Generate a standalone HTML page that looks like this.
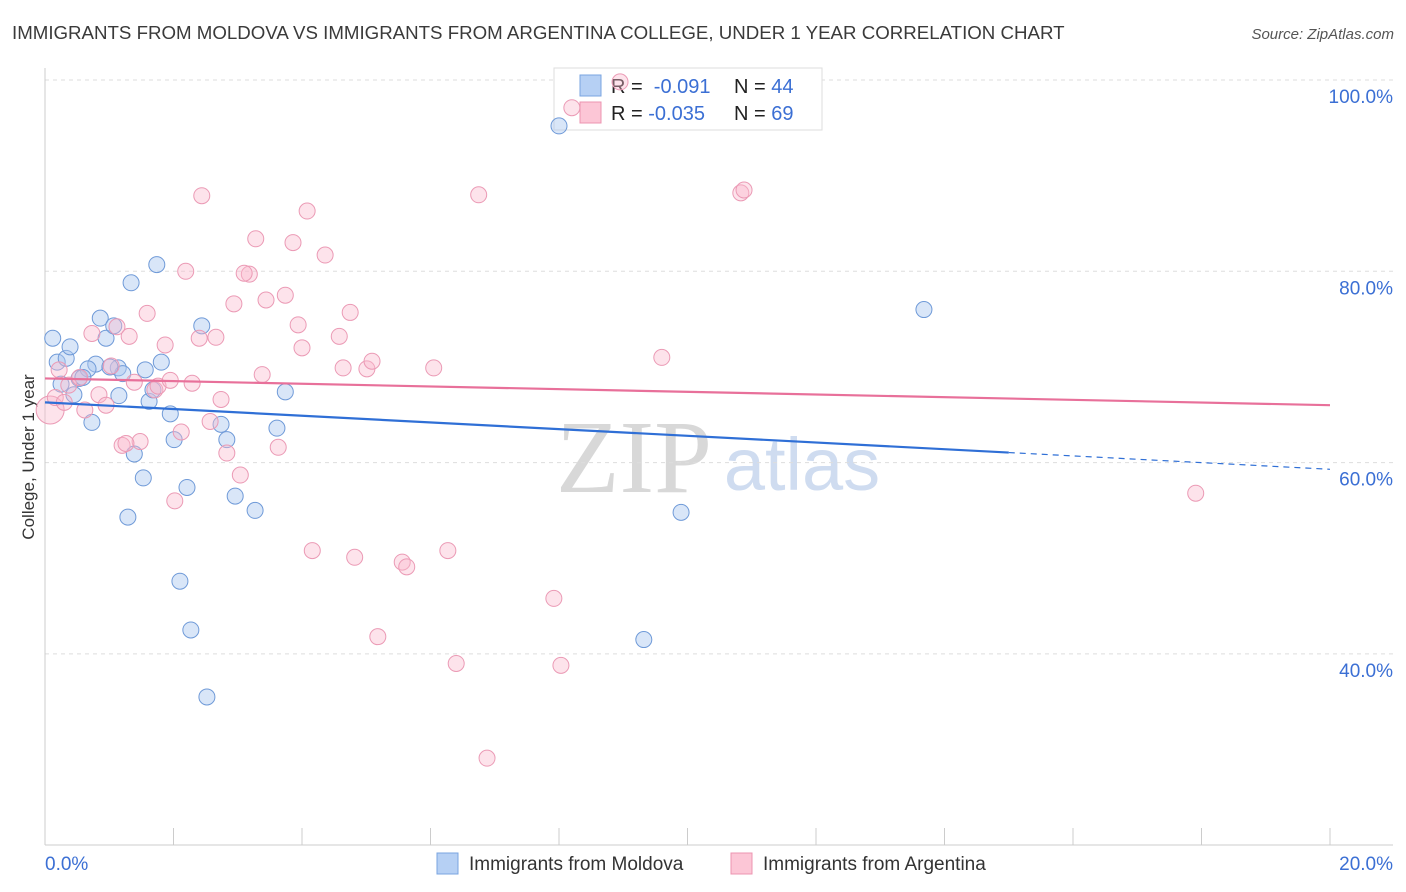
<!DOCTYPE html>
<html><head><meta charset="utf-8"><style>
body{margin:0;background:#fff;font-family:"Liberation Sans",sans-serif;}
svg{display:block}
</style></head><body>
<svg id="chart" width="1406" height="892">
<text x="12" y="39" font-size="18.7" fill="#3a3a3a">IMMIGRANTS FROM MOLDOVA VS IMMIGRANTS FROM ARGENTINA COLLEGE, UNDER 1 YEAR CORRELATION CHART</text>
<text x="1394" y="39" font-size="15" fill="#555" font-style="italic" text-anchor="end">Source: ZipAtlas.com</text>
<text x="634" y="492" font-size="104" fill="#d8d8d8" font-family="Liberation Serif,serif" text-anchor="middle">ZIP</text>
<text x="802" y="490" font-size="74" fill="#cfdcf0" text-anchor="middle">atlas</text>
<text transform="translate(34,457) rotate(-90)" font-size="17" fill="#333" text-anchor="middle">College, Under 1 year</text>
<g id="grid"></g>
<g>
<rect x="554" y="68" width="268" height="62" fill="#fff" stroke="#ddd"/>
<rect x="580" y="75" width="21" height="21" fill="#b6d0f4" stroke="#7aa4e0"/>
<rect x="580" y="102" width="21" height="21" fill="#fcc6d6" stroke="#ec94b0"/>
<text x="611" y="93" font-size="20" fill="#222">R = <tspan fill="#3b6fd4">&#160;-0.091</tspan></text>
<text x="734" y="93" font-size="20" fill="#222">N = <tspan fill="#3b6fd4">44</tspan></text>
<text x="611" y="120" font-size="20" fill="#222">R = <tspan fill="#3b6fd4">-0.035</tspan></text>
<text x="734" y="120" font-size="20" fill="#222">N = <tspan fill="#3b6fd4">69</tspan></text>
</g>
<g id="marks"></g><g id="lines"></g>
<g>
<rect x="437" y="853" width="21" height="21" fill="#b6d0f4" stroke="#7aa4e0"/>
<text x="469" y="870" font-size="19" fill="#333">Immigrants from Moldova</text>
<rect x="731" y="853" width="21" height="21" fill="#fcc6d6" stroke="#ec94b0"/>
<text x="763" y="870" font-size="19" fill="#333">Immigrants from Argentina</text>
</g>
</svg>
<script>
const yTicks=[100,80,60,40];
const yTickLabels=["100.0%","80.0%","60.0%","40.0%"];
const xTickLabels=["0.0%","20.0%"];
const moldovaX=[0.12,0.19,0.33,0.39,0.25,0.45,0.53,0.73,0.79,0.86,0.95,1.07,1.14,1.21,1.15,1.34,1.39,1.29,1.53,1.56,1.62,1.68,1.74,1.81,1.95,2.01,2.10,2.21,2.27,2.44,2.52,2.74,2.83,2.96,3.27,3.61,3.74,8.00,9.90,9.32,13.68,0.67,1.01,0.59];
const moldovaY=[73.0,70.5,70.9,72.1,68.2,67.1,68.8,64.2,70.3,75.1,73.0,74.3,69.9,69.3,67.0,78.8,60.9,54.3,58.4,69.7,66.4,67.6,80.7,70.5,65.1,62.4,47.6,57.4,42.5,74.3,35.5,64.0,62.4,56.5,55.0,63.6,67.4,95.2,54.8,41.5,76.0,69.8,70.0,68.9];
const argX=[0.08,0.16,0.22,0.37,0.62,0.73,0.84,0.95,1.03,1.12,1.20,1.31,1.39,1.48,1.59,1.71,1.76,1.87,1.95,2.02,2.12,2.19,2.29,2.40,2.44,2.57,2.66,2.74,2.83,2.94,3.04,3.18,3.28,3.38,3.44,3.63,3.74,3.86,3.94,4.00,4.08,4.16,4.36,4.58,4.64,4.75,4.82,5.01,5.09,5.18,5.56,5.63,6.05,6.27,6.40,6.75,6.88,7.92,8.03,9.60,10.83,10.88,17.91,8.20,0.54,1.26,3.10,0.30,8.95];
const argY=[65.5,66.8,69.7,68.1,65.5,73.5,67.1,66.0,70.1,74.2,61.8,73.2,68.4,62.2,75.6,67.6,68.0,72.3,68.6,56.0,63.2,80.0,68.3,73.0,87.9,64.3,73.1,66.6,61.0,76.6,58.7,79.7,83.4,69.2,77.0,61.6,77.5,83.0,74.4,72.0,86.3,50.8,81.7,73.2,69.9,75.7,50.1,69.8,70.6,41.8,49.6,49.1,69.9,50.8,39.0,88.0,29.1,45.8,38.8,71.0,88.2,88.5,56.8,97.1,68.9,62.0,79.8,66.3,99.8];
const moldovaTrend=[66.3,59.3];
const argTrend=[68.8,66.0];
const solidEnd=15.0;

const NS="http://www.w3.org/2000/svg";
const X=v=>45+v/20*1285;
const Y=v=>80+(100-v)*9.565;
function mk(tag,attrs,parent){const e=document.createElementNS(NS,tag);for(const k in attrs)e.setAttribute(k,attrs[k]);parent.appendChild(e);return e;}
const grid=document.getElementById('grid'),marks=document.getElementById('marks'),lines=document.getElementById('lines');
yTicks.forEach((t,i)=>{
 const l=mk('line',{x1:45,x2:1393,y1:Y(t),y2:Y(t),stroke:'#ddd','stroke-dasharray':'4,4'},grid);
 
 
 const tx=mk('text',{x:1393,y:Y(t)+23,'font-size':19,fill:'#3b6fd4','text-anchor':'end'},grid);
 tx.textContent=yTickLabels[i];
 
 
});
let a=mk('line',{x1:45,x2:45,y1:68,y2:845,stroke:'#ccc'},grid);


a=mk('line',{x1:45,x2:1393,y1:845,y2:845,stroke:'#ccc'},grid);


for(let i=0;i<=10;i++){
 const t=mk('line',{x1:X(i*2),x2:X(i*2),y1:828,y2:845,stroke:'#ccc'},grid);
 
 
}
[[0,'start',45],[20,'end',1393]].forEach((d,i)=>{
 const tx=mk('text',{x:d[2],y:870,'font-size':19,fill:'#3b6fd4','text-anchor':d[1]},grid);
 tx.textContent=xTickLabels[i];
 
 
});
moldovaX.forEach((x,i)=>{
 const c=mk('circle',{cx:X(x),cy:Y(moldovaY[i]),r:8,fill:'rgba(170,200,240,0.45)',stroke:'#6f9ad8','stroke-width':1},marks);
 
 
});
argX.forEach((x,i)=>{
 const c=mk('circle',{cx:X(x),cy:Y(argY[i]),r:i==0?14:8,fill:'rgba(250,185,205,0.4)',stroke:'#eb9ab5','stroke-width':1},marks);
 
 
});
const my=x=>moldovaTrend[0]+(moldovaTrend[1]-moldovaTrend[0])*x/20;
let l=mk('line',{x1:X(0),y1:Y(my(0)),x2:X(solidEnd),y2:Y(my(solidEnd)),stroke:'#2f6fd6','stroke-width':2.2},lines);


l=mk('line',{x1:X(solidEnd),y1:Y(my(solidEnd)),x2:X(20),y2:Y(my(20)),stroke:'#2f6fd6','stroke-width':1.2,'stroke-dasharray':'6,5'},lines);


l=mk('line',{x1:X(0),y1:Y(argTrend[0]),x2:X(20),y2:Y(argTrend[1]),stroke:'#e8709a','stroke-width':2.2},lines);


</script>
</body></html>
